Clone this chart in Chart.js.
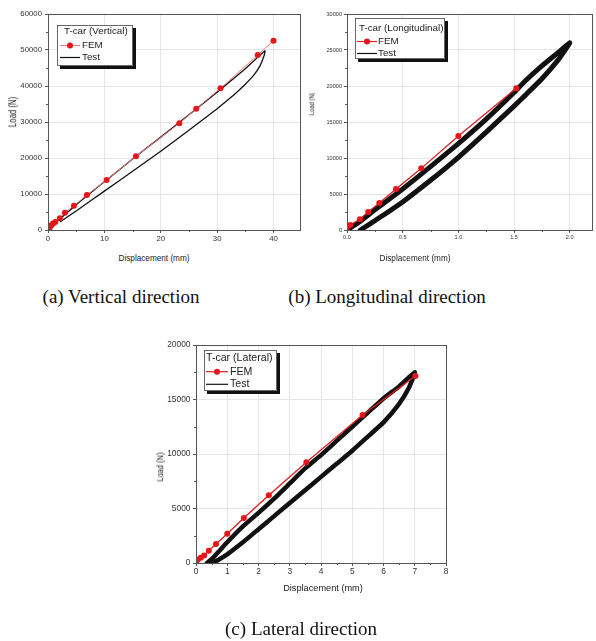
<!DOCTYPE html>
<html><head><meta charset="utf-8">
<script src="https://cdn.jsdelivr.net/npm/chart.js@4.4.1/dist/chart.umd.min.js"></script>
<style>
html,body{margin:0;padding:0;background:#fff}
body{width:596px;height:641px;position:relative;overflow:hidden;font-family:"Liberation Sans",Arial,sans-serif}
canvas{position:absolute}
.cap{position:absolute;font-family:"Liberation Serif","Times New Roman",serif;font-size:19px;color:#111;white-space:nowrap;transform:translate(-50%,-50%)}
.xt{position:absolute;white-space:nowrap;color:#222;transform:translate(-50%,-50%)}
.yt{position:absolute;white-space:nowrap;color:#222;transform:translate(-50%,-50%) scale(1.3,1) rotate(-90deg)}
</style></head>
<body>
<canvas id="ca" width="305" height="250" style="left:0;top:0"></canvas>
<canvas id="cb" width="296" height="250" style="left:300px;top:0"></canvas>
<canvas id="cc" width="300" height="255" style="left:150px;top:330px"></canvas>

<div class="yt" style="left:13px;top:112px;font-size:7.8px">Load (N)</div>
<div class="xt" style="left:154px;top:258px;font-size:8.2px">Displacement (mm)</div>
<div class="yt" style="left:310.5px;top:104px;font-size:5.8px">Load (N)</div>
<div class="xt" style="left:415px;top:258px;font-size:8.2px">Displacement (mm)</div>
<div class="yt" style="left:160px;top:467px;font-size:7.5px">Load (N)</div>
<div class="xt" style="left:323px;top:588px;font-size:9.2px">Displacement (mm)</div>

<div class="cap" style="left:121px;top:297px">(a) Vertical direction</div>
<div class="cap" style="left:387px;top:297px">(b) Longitudinal direction</div>
<div class="cap" style="left:301px;top:629px">(c) Lateral direction</div>

<script>
// ---------- (a) Vertical ----------
const vertFemX  = [0, 0.3, 0.6, 0.9, 1.3, 2.1, 3.0, 4.6, 6.9, 10.4, 15.6, 23.3, 26.3, 30.6, 37.2, 40.0];
const vertFemY  = [0, 600, 1300, 1800, 2200, 3240, 4810, 6750, 9720, 13890, 20500, 29630, 33700, 39350, 48600, 52600];
const vertTestX = [0, 0.5, 1, 2, 3, 5, 7, 10, 15, 20, 25, 30, 35, 38.5, 38.3, 37.6, 36.5, 35, 33, 30, 25, 20, 15, 10, 5, 2.2];
const vertTestY = [0, 900, 1600, 2900, 4300, 7000, 9600, 13400, 19700, 25800, 32000, 38300, 44800, 49800, 48300, 45600, 43000, 40500, 37600, 33700, 27700, 21900, 16300, 10800, 5300, 2300];
const vertXTicks = [0, 10, 20, 30, 40];
const vertYTicks = [0, 10000, 20000, 30000, 40000, 50000, 60000];

// ---------- (b) Longitudinal ----------
const longFemX  = [0, 0.03, 0.117, 0.19, 0.29, 0.44, 0.667, 1.0, 1.52];
const longFemY  = [0, 700, 1500, 2500, 3750, 5700, 8560, 13060, 19680];
const longTestX = [0, 0.1, 0.25, 0.5, 0.75, 1.0, 1.25, 1.5, 1.6, 1.75, 1.9, 2.0, 1.95, 1.9, 1.75, 1.6, 1.5, 1.25, 1.0, 0.75, 0.5, 0.3, 0.12];
const longTestY = [0, 1000, 2800, 5700, 8800, 12000, 15400, 19100, 20700, 22800, 24700, 26000, 24800, 23700, 21000, 18700, 17200, 13600, 10100, 6900, 3900, 1800, 0];
const longXTicks = [0, 0.5, 1.0, 1.5, 2.0];
const longYTicks = [0, 5000, 10000, 15000, 20000, 25000, 30000];

// ---------- (c) Lateral ----------
const latFemX  = [0, 0.05, 0.15, 0.26, 0.41, 0.64, 1.0, 1.53, 2.33, 3.53, 5.33, 7.02];
const latFemY  = [0, 300, 490, 680, 1130, 1740, 2680, 4120, 6220, 9250, 13580, 17150];
const latTestX = [0.35, 0.5, 1.0, 1.5, 2.0, 2.5, 3.0, 3.5, 4.0, 4.5, 5.0, 5.5, 6.0, 6.5, 7.0, 6.8, 6.5, 6.0, 5.5, 5.0, 4.5, 4.0, 3.5, 3.0, 2.5, 2.0, 1.5, 1.0, 0.55];
const latTestY = [0, 350, 1900, 3350, 4600, 5900, 7300, 8700, 9900, 11200, 12500, 13800, 15100, 16200, 17500, 16000, 14600, 12900, 11600, 10300, 9100, 7900, 6700, 5500, 4300, 3100, 1900, 800, 0];
const latXTicks = [0, 1, 2, 3, 4, 5, 6, 7, 8];
const latYTicks = [0, 5000, 10000, 15000, 20000];

const seriesNames = ['FEM', 'Test'];
const legendTitles = ['T-car (Vertical)', 'T-car (Longitudinal)', 'T-car (Lateral)'];

function pts(xs, ys) { return xs.map((x, i) => ({x: x, y: ys[i]})); }

const framePlugin = {
  id: 'frame',
  afterDraw(chart, args, o) {
    const a = chart.chartArea, ctx = chart.ctx;
    ctx.save();
    ctx.strokeStyle = '#555';
    ctx.lineWidth = 1;
    ctx.strokeRect(Math.round(a.left) + 0.5, Math.round(a.top) + 0.5, Math.round(a.right - a.left), Math.round(a.bottom - a.top));
    const xs = chart.scales.x, ys = chart.scales.y;
    ctx.beginPath();
    (o.xMinor || []).forEach(v => { const px = Math.round(xs.getPixelForValue(v)) + 0.5; ctx.moveTo(px, a.bottom); ctx.lineTo(px, a.bottom + 2); });
    (o.yMinor || []).forEach(v => { const py = Math.round(ys.getPixelForValue(v)) + 0.5; ctx.moveTo(a.left, py); ctx.lineTo(a.left - 2, py); });
    ctx.stroke();
    ctx.restore();
  }
};

const legendPlugin = {
  id: 'boxLegend',
  afterDraw(chart, args, o) {
    const ctx = chart.ctx;
    ctx.save();
    ctx.fillStyle = '#111';
    ctx.fillRect(o.x + 3, o.y + 3, o.w, o.h);
    ctx.fillStyle = '#fff';
    ctx.fillRect(o.x, o.y, o.w, o.h);
    ctx.strokeStyle = '#444'; ctx.lineWidth = 0.8;
    ctx.strokeRect(o.x + 0.5, o.y + 0.5, o.w - 1, o.h - 1);
    ctx.font = o.fontSize + 'px "Liberation Sans", Arial, sans-serif';
    ctx.fillStyle = '#222';
    ctx.textBaseline = 'middle';
    ctx.textAlign = 'left';
    ctx.fillText(o.title, o.titleX, o.titleY);
    chart.data.datasets.forEach((ds, i) => {
      const y = o.rowY[i];
      ctx.strokeStyle = ds.borderColor;
      ctx.lineWidth = Math.min(ds.borderWidth, 1.2);
      ctx.beginPath(); ctx.moveTo(o.lineX0, y); ctx.lineTo(o.lineX1, y); ctx.stroke();
      if (ds.pointRadius > 0) {
        ctx.fillStyle = ds.pointBackgroundColor;
        ctx.beginPath(); ctx.arc((o.lineX0 + o.lineX1) / 2, y, ds.pointRadius, 0, Math.PI * 2); ctx.fill();
      }
      ctx.fillStyle = '#222';
      ctx.fillText(ds.label, o.textX, y);
    });
    ctx.restore();
  }
};

function makeChart(id, cfg) {
  const tickFont = {family: '"Liberation Sans", Arial, sans-serif', size: cfg.tickSize};
  return new Chart(document.getElementById(id), {
    type: 'scatter',
    data: {
      datasets: [
        {label: seriesNames[0], data: cfg.fem, showLine: true, borderColor: cfg.femLine, borderWidth: cfg.femWidth,
         pointRadius: 3, pointBackgroundColor: '#e8141a', pointBorderWidth: 0, pointBorderColor: '#e8141a', tension: 0},
        {label: seriesNames[1], data: cfg.test, showLine: true, borderColor: '#111', borderWidth: cfg.testWidth,
         pointRadius: 0, tension: cfg.testTension, borderJoinStyle: 'round', borderCapStyle: 'round'}
      ]
    },
    options: {
      responsive: false, animation: false, devicePixelRatio: 1,
      layout: {padding: {left: 0, top: cfg.padTop, right: cfg.padRight, bottom: 0}},
      plugins: {
        legend: {display: false}, tooltip: {enabled: false},
        frame: {xMinor: cfg.xMinor, yMinor: cfg.yMinor},
        boxLegend: cfg.legend
      },
      scales: {
        x: {
          type: 'linear', min: 0, max: cfg.xMax,
          afterFit: s => { s.height = cfg.xAxisH; },
          afterBuildTicks: s => { s.ticks = cfg.xTicks.map(v => ({value: v})); },
          ticks: {font: tickFont, color: '#333', padding: cfg.xPad, maxRotation: 0, autoSkip: false,
                  callback: v => cfg.xFmt(v)},
          grid: {color: '#e6e6e6', lineWidth: 1, tickLength: 3, tickColor: '#555'},
          border: {display: true, color: '#555'}
        },
        y: {
          type: 'linear', min: 0, max: cfg.yMax,
          afterFit: s => { s.width = cfg.yAxisW; },
          afterBuildTicks: s => { s.ticks = cfg.yTicks.map(v => ({value: v})); },
          ticks: {font: tickFont, color: '#333', padding: cfg.yPad, autoSkip: false, callback: v => String(v)},
          grid: {color: '#e6e6e6', lineWidth: 1, tickLength: 3, tickColor: '#555'},
          border: {display: true, color: '#555'}
        }
      }
    },
    plugins: [framePlugin, legendPlugin]
  });
}

makeChart('ca', {
  fem: pts(vertFemX, vertFemY), test: pts(vertTestX, vertTestY),
  femLine: '#f07878', femWidth: 1, testWidth: 1.3, testTension: 0.1,
  xMax: 44.7, yMax: 60000, xTicks: vertXTicks, yTicks: vertYTicks,
  xMinor: [5, 15, 25, 35], yMinor: [5000, 15000, 25000, 35000, 45000, 55000],
  xFmt: v => String(v),
  tickSize: 7.8, xPad: 1, yPad: 3,
  padTop: 14, padRight: 5, xAxisH: 20, yAxisW: 48,
  legend: {x: 57, y: 25, w: 76, h: 41, title: legendTitles[0], titleX: 64, titleY: 31.5, fontSize: 9.8,
           rowY: [45.5, 57.5], lineX0: 60, lineX1: 80, textX: 82}
});

makeChart('cb', {
  fem: pts(longFemX, longFemY), test: pts(longTestX, longTestY),
  femLine: '#e01e1e', femWidth: 1.3, testWidth: 5, testTension: 0.15,
  xMax: 2.2, yMax: 30000, xTicks: longXTicks, yTicks: longYTicks,
  xMinor: [0.25, 0.75, 1.25, 1.75], yMinor: [2500, 7500, 12500, 17500, 22500, 27500],
  xFmt: v => v.toFixed(1),
  tickSize: 5.6, xPad: 1, yPad: 2,
  padTop: 14, padRight: 2, xAxisH: 20, yAxisW: 47,
  legend: {x: 55, y: 18, w: 90, h: 41, title: legendTitles[1], titleX: 59, titleY: 28.5, fontSize: 9.8,
           rowY: [41.5, 53.5], lineX0: 57, lineX1: 77, textX: 78}
});

makeChart('cc', {
  fem: pts(latFemX, latFemY), test: pts(latTestX, latTestY),
  femLine: '#e01e1e', femWidth: 1.3, testWidth: 4.5, testTension: 0.15,
  xMax: 8, yMax: 20000, xTicks: latXTicks, yTicks: latYTicks,
  xMinor: [0.5, 1.5, 2.5, 3.5, 4.5, 5.5, 6.5, 7.5], yMinor: [2500, 7500, 12500, 17500],
  xFmt: v => String(v),
  tickSize: 8.4, xPad: 1, yPad: 2.5,
  padTop: 15, padRight: 3, xAxisH: 22, yAxisW: 46,
  legend: {x: 54, y: 20, w: 73, h: 41, title: legendTitles[2], titleX: 56, titleY: 28.5, fontSize: 10.6,
           rowY: [41.7, 54.3], lineX0: 56, lineX1: 78, textX: 80}
});
</script>
</body></html>
